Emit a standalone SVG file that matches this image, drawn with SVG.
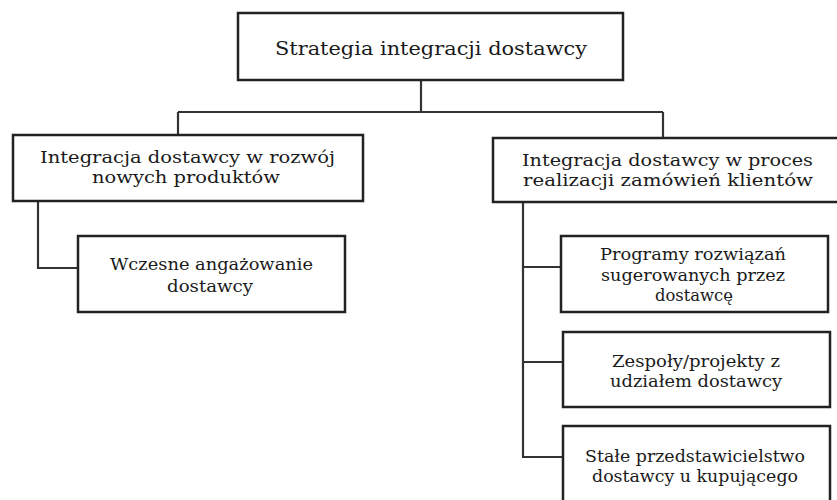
<svg xmlns="http://www.w3.org/2000/svg" width="837" height="500" viewBox="0 0 837 500">
<style>
rect{fill:#fff;stroke:#222;stroke-width:2.5}
.c{fill:none;stroke:#333;stroke-width:2.2}
text{font-family:"DejaVu Serif","Liberation Serif",serif;font-size:17px;fill:#1a1a1a;text-anchor:middle}
.t{font-size:19px}
</style>
<rect width="837" height="500" style="fill:#fff;stroke:none"/>
<g id="connectors">
<path class="c" d="M421 80V112M178 112H663M178 112V135M663 112V138"/>
<path class="c" d="M38 201V268H78"/>
<path class="c" d="M523 202V457H563M523 267H561M523 362H563"/>
</g>
<g id="root">
<rect x="238" y="13" width="385" height="67"/>
<text class="t" x="431" y="55" textLength="312" lengthAdjust="spacingAndGlyphs">Strategia integracji dostawcy</text>
</g>
<g id="left">
<rect x="13" y="135" width="350" height="66"/>
<text x="187.5" y="163" textLength="295" lengthAdjust="spacingAndGlyphs">Integracja dostawcy w rozwój</text>
<text x="186" y="183" textLength="188" lengthAdjust="spacingAndGlyphs">nowych produktów</text>
</g>
<g id="early">
<rect x="78" y="236" width="267" height="76"/>
<text x="211.5" y="270" textLength="203" lengthAdjust="spacingAndGlyphs">Wczesne angażowanie</text>
<text x="210" y="292" textLength="86" lengthAdjust="spacingAndGlyphs">dostawcy</text>
</g>
<g id="right">
<rect x="493" y="138" width="360" height="64"/>
<text x="667.5" y="166" textLength="291" lengthAdjust="spacingAndGlyphs">Integracja dostawcy w proces</text>
<text x="668" y="186" textLength="290" lengthAdjust="spacingAndGlyphs">realizacji zamówień klientów</text>
</g>
<g id="programs">
<rect x="561" y="236" width="267" height="76"/>
<text x="693" y="260" textLength="186" lengthAdjust="spacingAndGlyphs">Programy rozwiązań</text>
<text x="693" y="281" textLength="184" lengthAdjust="spacingAndGlyphs">sugerowanych przez</text>
<text x="694" y="301" textLength="78" lengthAdjust="spacingAndGlyphs">dostawcę</text>
</g>
<g id="teams">
<rect x="563" y="332" width="267" height="75"/>
<text x="696" y="367" textLength="168" lengthAdjust="spacingAndGlyphs">Zespoły/projekty z</text>
<text x="696" y="387" textLength="172" lengthAdjust="spacingAndGlyphs">udziałem dostawcy</text>
</g>
<g id="permanent">
<rect x="563" y="426" width="267" height="90"/>
<text x="695" y="462" textLength="220" lengthAdjust="spacingAndGlyphs">Stałe przedstawicielstwo</text>
<text x="695" y="482" textLength="206" lengthAdjust="spacingAndGlyphs">dostawcy u kupującego</text>
</g>
</svg>
